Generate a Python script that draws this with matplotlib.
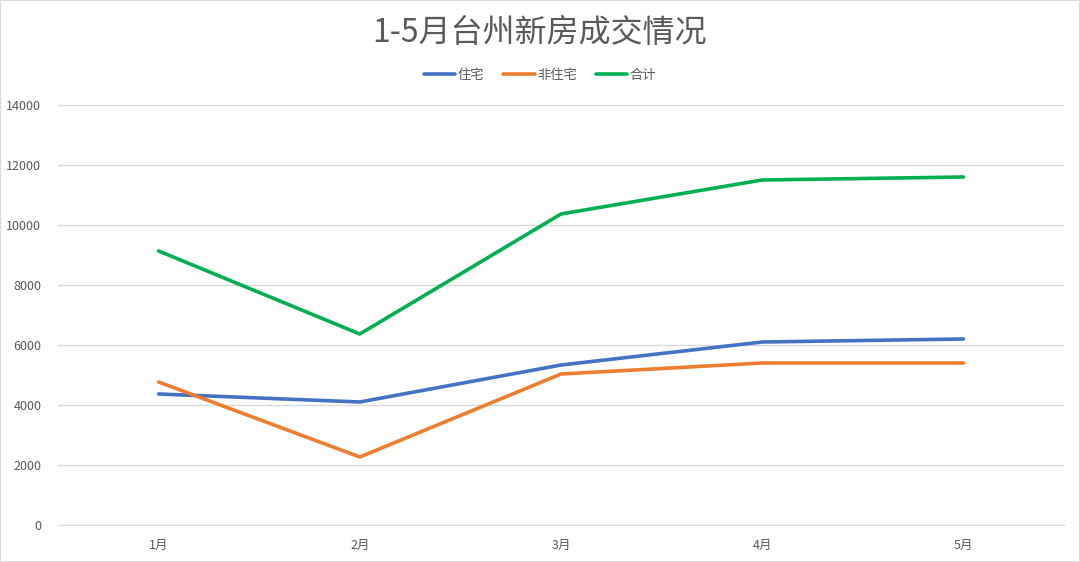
import matplotlib.pyplot as plt
from matplotlib.patches import Rectangle

plt.rcParams['font.family'] = ['Noto Sans CJK SC', 'DejaVu Sans']

months = ['1月', '2月', '3月', '4月', '5月']
zhuzhai = [4367, 4100, 5333, 6100, 6200]
feizhuzhai = [4767, 2267, 5033, 5400, 5400]
heji = [9134, 6367, 10367, 11500, 11600]

fig = plt.figure(figsize=(10.8, 5.62), dpi=100)
ax = fig.add_axes([58 / 1080, 37 / 562, 1006 / 1080, 420 / 562])

x = range(len(months))
ax.plot(x, zhuzhai, color='#4472C4', lw=2.6, label='住宅', solid_capstyle='round')
ax.plot(x, feizhuzhai, color='#ED7D31', lw=2.6, label='非住宅', solid_capstyle='round')
ax.plot(x, heji, color='#00B050', lw=2.6, label='合计', solid_capstyle='round')

ax.set_xlim(-0.5, 4.5)
ax.set_ylim(0, 14000)
ax.set_yticks(range(0, 14001, 2000))
ax.set_xticks(list(x))
ax.set_xticklabels(months)
ax.grid(axis='y', color='#D9D9D9', lw=1)
ax.set_axisbelow(True)
for s in ['top', 'right', 'left']:
    ax.spines[s].set_visible(False)
ax.spines['bottom'].set_color('#D9D9D9')
ax.tick_params(length=0, colors='#595959', labelsize=9)
ax.tick_params(axis='y', pad=12)
ax.tick_params(axis='x', pad=10)

fig.text(0.5, 1 - 33 / 562, '1-5月台州新房成交情况', ha='center', va='center',
         fontsize=23, color='#595959')
fig.legend(loc='center', bbox_to_anchor=(0.5, 1 - 75 / 562), ncol=3, frameon=False,
           fontsize=9.5, labelcolor='#595959', handlelength=2.4, handletextpad=0.2,
           columnspacing=1.4)

fig.patches.append(Rectangle((0, 0), 1, 1, transform=fig.transFigure, fill=False,
                             edgecolor='#D9D9D9', lw=1.5))

fig.savefig('out.png', dpi=100)
